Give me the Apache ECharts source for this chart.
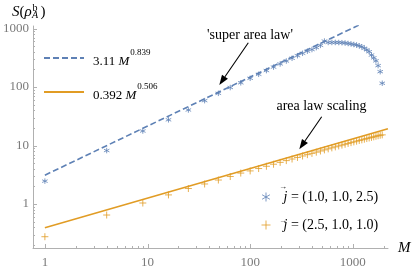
<!DOCTYPE html>
<html><head><meta charset="utf-8">
<script src="https://cdn.jsdelivr.net/npm/echarts@6/dist/echarts.min.js"></script>
<style>html,body{margin:0;padding:0;background:#fff}#c{width:415px;height:272px}</style>
</head><body><div id="c"></div>
<script>
// ---- data ----
const M = [1,4,9,16,25,36,49,64,81,100,121,144,169,196,225,256,289,324,361,400,441,484,529,576,625,676,729,784,841,900,961,1024,1089,1156,1225,1296,1369,1444,1521,1600,1681,1764,1849,1936];
const blueS = [2.46,8.2,17.7,27.5,40.5,58.5,78,98,118,141,165,191,219,248,278,310,343,377,410,437,472,515,610,578,578,578,576,572,566,555,545,533,522,505,488,460,432,401,352,315,280,232,183,116];
const orangeS = [0.276,0.648,1.04,1.43,1.84,2.2,2.57,2.95,3.38,3.68,4.04,4.42,4.79,5.15,5.52,5.88,6.25,6.62,6.98,7.34,7.7,8.06,8.42,8.77,9.12,9.48,9.83,10.17,10.5,10.85,11.2,11.53,11.86,12.2,12.5,12.82,13.15,13.46,13.78,14.08,14.4,14.7,14.98,15.2];
const blueFit = [[1,3.11],[2200,1980]];
const orangeFit = [[1,0.392],[2200,19.3]];
const xMajorTicks = [1,10,100,1000];
const xMinorTicks = [2,3,4,5,6,7,8,9,20,30,40,50,60,70,80,90,200,300,400,500,600,700,800,900,2000];
const yMajorTicks = [1,10,100,1000];
const yMinorTicks = [0.2,0.3,0.4,0.5,0.6,0.7,0.8,0.9,2,3,4,5,6,7,8,9,20,30,40,50,60,70,80,90,200,300,400,500,600,700,800,900];
const fitNames = ['3.11 M^0.839','0.392 M^0.506'];
const dataNames = ['(1.0, 1.0, 2.5)','(2.5, 1.0, 1.0)'];
const X_MIN = 0.766, X_MAX = 2203, Y_MIN = 0.177, Y_MAX = 1104;

const SERIF = '"Liberation Serif","DejaVu Serif",serif';
const BLUE = '#5E81B5', ORANGE = '#E19C24';
const AXIS = '#b0b0b0', LABEL = '#7a7a7a';
const STAR = 'path://M0,-5L0,5M-4.33,-2.5L4.33,2.5M-4.33,2.5L4.33,-2.5';
const PLUS = 'path://M-5,0L5,0M0,-5L0,5';

const chart = echarts.init(document.getElementById('c'), null, {renderer:'canvas'});

function powLabel(v){
  const l = Math.log10(v);
  return Math.abs(l - Math.round(l)) < 1e-6 ? String(Math.round(Math.pow(10, Math.round(l)) * 1000) / 1000) : '';
}
function arrow(x1,y1,x2,y2){
  const dx=x2-x1, dy=y2-y1, L=Math.hypot(dx,dy), ux=dx/L, uy=dy/L, hl=10, hw=3.6;
  const bx=x2-ux*hl, by=y2-uy*hl;
  return [
    {type:'line', shape:{x1:x1,y1:y1,x2:bx,y2:by}, style:{stroke:'#000', lineWidth:1.1}},
    {type:'polygon', shape:{points:[[x2,y2],[bx-uy*hw,by+ux*hw],[bx+uy*hw,by-ux*hw]]}, style:{fill:'#000'}}
  ];
}
const tickX = xMajorTicks.map(v=>[v,Y_MIN,4]).concat(xMinorTicks.map(v=>[v,Y_MIN,2]));
const tickY = yMajorTicks.map(v=>[X_MIN,v,4]).concat(yMinorTicks.map(v=>[X_MIN,v,2]));

const richFit = {
  p:{fontFamily:SERIF, fontSize:13, lineHeight:20, verticalAlign:'bottom', color:'#000', padding:[0,0,0,4]},
  i:{fontFamily:SERIF, fontSize:13, lineHeight:20, verticalAlign:'bottom', fontStyle:'italic', color:'#000'},
  s:{fontFamily:SERIF, fontSize:9, lineHeight:8, verticalAlign:'top', color:'#000', padding:[0,0,0,1]}
};
const richData = {
  j:{fontFamily:SERIF, fontSize:14, lineHeight:20, fontStyle:'italic', color:'#000', padding:[0,0,0,8]},
  n:{fontFamily:SERIF, fontSize:14, lineHeight:20, color:'#000'}
};

const option = {
  animation:false,
  backgroundColor:'#fff',
  grid:{left:30, right:27, top:26, bottom:24},
  xAxis:{type:'log', logBase:10, min:X_MIN, max:X_MAX,
    name:'M', nameLocation:'end', nameGap:10,
    nameTextStyle:{fontFamily:SERIF, fontSize:15, fontStyle:'italic', color:'#000', verticalAlign:'middle'},
    axisLine:{lineStyle:{color:AXIS, width:1}}, axisTick:{show:false}, splitLine:{show:false},
    axisLabel:{formatter:powLabel, showMinLabel:false, showMaxLabel:false, margin:8,
      fontFamily:SERIF, fontSize:13, color:LABEL}},
  yAxis:{type:'log', logBase:10, min:Y_MIN, max:Y_MAX,
    axisLine:{show:true, lineStyle:{color:AXIS, width:1}}, axisTick:{show:false}, splitLine:{show:false},
    axisLabel:{formatter:powLabel, showMinLabel:false, showMaxLabel:false, margin:4,
      fontFamily:SERIF, fontSize:13, color:LABEL}},
  legend:[
    {left:38, top:43, orient:'vertical', itemWidth:40, itemHeight:14, itemGap:14, selectedMode:false,
      data:['fitBlue','fitOrange'],
      itemStyle:{color:'rgba(0,0,0,0)', borderWidth:0, opacity:0},
      formatter:function(name){
        const t = fitNames[name==='fitBlue'?0:1];
        const parts = t.split(' M^');
        return '{p|'+parts[0]+' }{i|M}{s|'+parts[1]+'}';
      },
      textStyle:{rich:richFit}},
    {left:256, top:185, orient:'vertical', itemWidth:9, itemHeight:9, itemGap:14, selectedMode:false,
      data:['dataBlue','dataOrange'],
      itemStyle:{borderWidth:1},
      formatter:function(name){
        const t = dataNames[name==='dataBlue'?0:1];
        return '{j|j}{n| = '+t+'}';
      },
      textStyle:{rich:richData}}
  ],
  series:[
    {name:'fitOrange', type:'line', data:orangeFit, symbol:'none', clip:true,
      lineStyle:{color:ORANGE, width:1.6}, itemStyle:{color:ORANGE}, z:2},
    {name:'fitBlue', type:'line', data:blueFit, symbol:'none', clip:true,
      lineStyle:{color:BLUE, width:1.6, type:[6,3]}, itemStyle:{color:BLUE}, z:2},
    {name:'dataBlue', type:'scatter', data:M.map((m,i)=>[m,blueS[i]]), symbol:STAR, symbolSize:5.5,
      itemStyle:{color:'rgba(0,0,0,0)', borderColor:BLUE, borderWidth:1}, z:3},
    {name:'dataOrange', type:'scatter', data:M.map((m,i)=>[m,orangeS[i]]), symbol:PLUS, symbolSize:7,
      itemStyle:{color:'rgba(0,0,0,0)', borderColor:ORANGE, borderWidth:1}, z:3},
    {name:'ticksX', type:'custom', data:tickX, clip:false, silent:true, z:1,
      renderItem:function(params, api){
        const p = api.coord([api.value(0), api.value(1)]);
        const len = api.value(2);
        return {type:'line', shape:{x1:Math.round(p[0])+0.5, y1:p[1], x2:Math.round(p[0])+0.5, y2:p[1]-len}, style:{stroke:AXIS, lineWidth:1}};
      }},
    {name:'ticksY', type:'custom', data:tickY, clip:false, silent:true, z:1,
      renderItem:function(params, api){
        const p = api.coord([api.value(0), api.value(1)]);
        const len = api.value(2);
        return {type:'line', shape:{x1:p[0], y1:Math.round(p[1])+0.5, x2:p[0]+len, y2:Math.round(p[1])+0.5}, style:{stroke:AXIS, lineWidth:1}};
      }}
  ],
  graphic:[
    {type:'text', x:12, y:12, style:{text:'{i|S}{n|(}{i|ρ}', rich:{
      i:{fontFamily:SERIF, fontSize:15, fontStyle:'italic', fill:'#000'},
      n:{fontFamily:SERIF, fontSize:15, fill:'#000'}}, verticalAlign:'middle'}},
    {type:'text', x:32.5, y:8, style:{text:'b', fontFamily:SERIF, fontSize:10, fill:'#000', verticalAlign:'middle'}},
    {type:'text', x:32, y:15.5, style:{text:'A', fontFamily:SERIF, fontSize:10, fontStyle:'italic', fill:'#000', verticalAlign:'middle'}},
    {type:'text', x:40.5, y:12, style:{text:')', fontFamily:SERIF, fontSize:15, fill:'#000', verticalAlign:'middle'}},
    {type:'text', x:283, y:187, style:{text:'\u2192', fontFamily:SERIF, fontSize:8, fill:'#000', align:'center', verticalAlign:'middle'}},
    {type:'text', x:283, y:221, style:{text:'\u2192', fontFamily:SERIF, fontSize:8, fill:'#000', align:'center', verticalAlign:'middle'}},
    {type:'text', x:250, y:35, style:{text:"'super area law'", fontFamily:SERIF, fontSize:14, fill:'#000', align:'center', verticalAlign:'middle'}},
    {type:'text', x:321.5, y:106, style:{text:'area law scaling', fontFamily:SERIF, fontSize:14, fill:'#000', align:'center', verticalAlign:'middle'}}
  ].concat(arrow(248.3,42.7,219.3,85)).concat(arrow(321.7,116.7,299.3,149.3))
};
chart.setOption(option);
</script>
</body></html>
